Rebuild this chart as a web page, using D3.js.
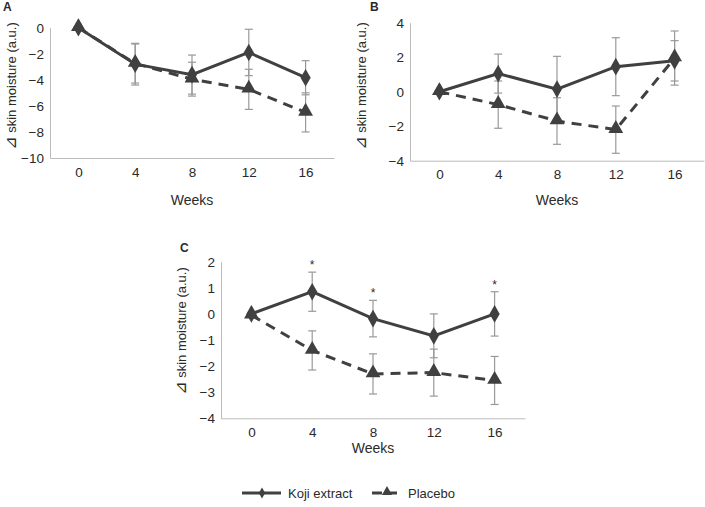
<!DOCTYPE html>
<html>
<head>
<meta charset="utf-8">
<script src="https://cdnjs.cloudflare.com/ajax/libs/d3/7.8.5/d3.min.js"></script>
<style>
  body { margin: 0; background: #fff; }
  svg text { font-family: "Liberation Sans", Arial, "DejaVu Sans", sans-serif; fill: #2a2a2a; }
</style>
</head>
<body>
<svg id="chart" width="705" height="507"></svg>
<script>
// weeks on the x axis
var weeks = [0, 4, 8, 12, 16];

// panel A
var kojiA = [0, -2.8, -3.6, -1.9, -3.84];
var kojiErrA = [0, 1.6, 1.5, 1.78, 1.31];
var placeboA = [0, -2.75, -3.95, -4.73, -6.5];
var placeboErrA = [0, 1.5, 1.3, 1.54, 1.5];
var ticksA = [-10, -8, -6, -4, -2, 0];

// panel B
var kojiB = [0, 1.05, 0.15, 1.45, 1.79];
var kojiErrB = [0, 1.13, 1.9, 1.68, 1.17];
var placeboB = [0, -0.75, -1.7, -2.2, 1.95];
var placeboErrB = [0, 1.37, 1.35, 1.37, 1.57];
var ticksB = [-4, -2, 0, 2, 4];

// panel C
var kojiC = [0, 0.85, -0.18, -0.84, 0.0];
var kojiErrC = [0, 0.75, 0.7, 0.84, 0.85];
var placeboC = [-0.05, -1.4, -2.3, -2.25, -2.55];
var placeboErrC = [0, 0.75, 0.77, 0.9, 0.92];
var ticksC = [-4, -3, -2, -1, 0, 1, 2];
var starsC = [false, true, true, false, true];

var lineColor = "#404040",
    errColor = "#999";

var svg = d3.select("#chart");

var panels = [
    {letter: "A", lx: 3, ly: 11, x0: 50, x1: 334, yTop: 27.7, yBot: 158, dom: [-10, 0], ticks: ticksA,
     koji: kojiA, kErr: kojiErrA, plac: placeboA, pErr: placeboErrA, labX: 12, labY: 86, weeksY: 205},
    {letter: "B", lx: 370, ly: 11, x0: 410, x1: 704, yTop: 22.7, yBot: 160.7, dom: [-4, 4], ticks: ticksB,
     koji: kojiB, kErr: kojiErrB, plac: placeboB, pErr: placeboErrB, labX: 362, labY: 86, weeksY: 205},
    {letter: "C", lx: 180, ly: 252, x0: 221, x1: 525, yTop: 261.7, yBot: 418.3, dom: [-4, 2], ticks: ticksC,
     koji: kojiC, kErr: kojiErrC, plac: placeboC, pErr: placeboErrC, labX: 182, labY: 331, weeksY: 453, stars: starsC}
];

panels.forEach(function (p) {
    var x = d3.scalePoint().domain(weeks).range([p.x0, p.x1]).padding(0.5);
    var y = d3.scaleLinear().domain(p.dom).range([p.yBot, p.yTop]);
    var g = svg.append("g");

    g.append("g")
        .attr("transform", "translate(" + p.x0 + ",0)")
        .call(d3.axisLeft(y).tickValues(p.ticks).tickFormat(d3.format("d")).tickSize(0).tickPadding(6));
    g.append("g")
        .attr("transform", "translate(0," + p.yBot + ")")
        .call(d3.axisBottom(x).tickSize(0).tickPadding(9));
    g.selectAll(".domain").attr("stroke", "#bbb").attr("stroke-width", 1);
    g.selectAll(".tick text").attr("font-size", 13.5).attr("fill", "#2a2a2a")
        .style("font-family", "'Liberation Sans', Arial, sans-serif");

    g.append("text")
        .attr("x", p.lx).attr("y", p.ly)
        .attr("font-size", 12).attr("font-weight", "bold")
        .text(p.letter);

    var lab = g.append("text")
        .attr("transform", "translate(" + (p.labX + 4) + "," + p.labY + ") rotate(-90)")
        .attr("text-anchor", "middle")
        .attr("font-size", 13);
    lab.append("tspan").attr("font-size", 16)
        .style("font-family", "'DejaVu Sans', sans-serif").text("\u22BF");
    lab.append("tspan").text(" skin moisture (a.u.)");

    g.append("text")
        .attr("x", (p.x0 + p.x1) / 2).attr("y", p.weeksY)
        .attr("text-anchor", "middle")
        .attr("font-size", 14)
        .text("Weeks");

    function errorBars(vals, errs) {
        weeks.forEach(function (w, i) {
            if (!errs[i]) return;
            var cx = x(w), top = y(vals[i] + errs[i]), bot = y(vals[i] - errs[i]);
            g.append("line").attr("x1", cx).attr("x2", cx).attr("y1", top).attr("y2", bot)
                .attr("stroke", errColor).attr("stroke-width", 1.2);
            [top, bot].forEach(function (yy) {
                g.append("line").attr("x1", cx - 4).attr("x2", cx + 4).attr("y1", yy).attr("y2", yy)
                    .attr("stroke", errColor).attr("stroke-width", 1.2);
            });
        });
    }
    errorBars(p.koji, p.kErr);
    errorBars(p.plac, p.pErr);

    var line = d3.line().x(function (d, i) { return x(weeks[i]); }).y(function (d) { return y(d); });

    g.append("path").datum(p.plac).attr("d", line)
        .attr("fill", "none").attr("stroke", lineColor).attr("stroke-width", 3)
        .attr("stroke-dasharray", "10,7");
    g.append("path").datum(p.koji).attr("d", line)
        .attr("fill", "none").attr("stroke", lineColor).attr("stroke-width", 3);

    g.selectAll(".tri").data(p.plac).enter().append("path")
        .attr("d", d3.symbol().type(d3.symbolTriangle).size(95))
        .attr("transform", function (d, i) { return "translate(" + x(weeks[i]) + "," + (y(d) - 1) + ")"; })
        .attr("fill", lineColor);
    g.selectAll(".dia").data(p.koji).enter().append("path")
        .attr("d", d3.symbol().type(d3.symbolDiamond).size(90))
        .attr("transform", function (d, i) { return "translate(" + x(weeks[i]) + "," + y(d) + ")"; })
        .attr("fill", lineColor);

    if (p.stars) {
        p.stars.forEach(function (s, i) {
            if (!s) return;
            g.append("text")
                .attr("x", x(weeks[i])).attr("y", y(p.koji[i] + p.kErr[i]) - 3)
                .attr("text-anchor", "middle").attr("font-size", 12)
                .text("*");
        });
    }
});

// legend
var leg = svg.append("g");
leg.append("line").attr("x1", 242).attr("x2", 281).attr("y1", 493).attr("y2", 493)
    .attr("stroke", lineColor).attr("stroke-width", 3);
leg.append("path").attr("d", d3.symbol().type(d3.symbolDiamond).size(35))
    .attr("transform", "translate(262,493)").attr("fill", lineColor);
leg.append("text").attr("x", 288).attr("y", 498).attr("font-size", 13).text("Koji extract");

leg.append("line").attr("x1", 372).attr("x2", 398).attr("y1", 493).attr("y2", 493)
    .attr("stroke", lineColor).attr("stroke-width", 3).attr("stroke-dasharray", "10,5");
leg.append("path").attr("d", d3.symbol().type(d3.symbolTriangle).size(45))
    .attr("transform", "translate(387,492)").attr("fill", lineColor);
leg.append("text").attr("x", 408).attr("y", 498).attr("font-size", 13).text("Placebo");
</script>
</body>
</html>
